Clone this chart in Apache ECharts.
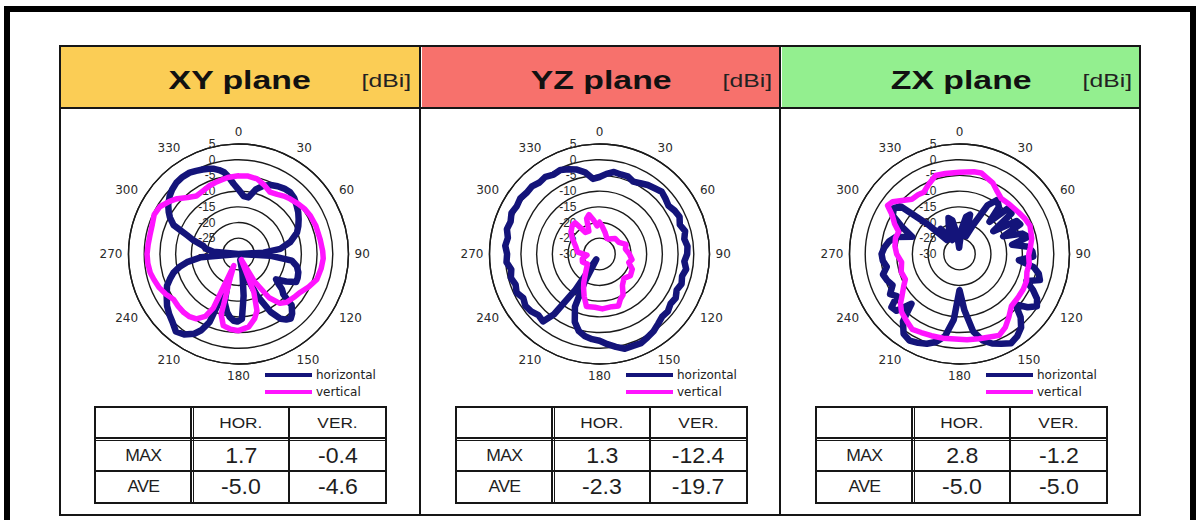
<!DOCTYPE html>
<html>
<head>
<meta charset="utf-8">
<title>Radiation patterns</title>
<script src="https://cdn.jsdelivr.net/npm/echarts@6.0.0/dist/echarts.min.js"></script>
<style>
  html, body { margin: 0; padding: 0; background: #fff; }
  body { position: relative; width: 1198px; height: 520px; overflow: hidden;
         font-family: "Liberation Sans", Arial, sans-serif; color: #1b1b1b; }
  #chart { position: absolute; left: 0; top: 0; width: 1198px; height: 520px; }
  .frame { position: absolute; left: 4px; top: 6px; width: 1180px; height: 560px;
           border: 6px solid #000; pointer-events: none; }
  .ln { position: absolute; background: #161616; }
  .head { position: absolute; top: 47px; height: 60px; }
  .title { position: absolute; left: 0; right: 0; top: 20px; text-align: center;
           font-weight: bold; font-size: 26px; line-height: 26px; color: #111; }
  .title span { display: inline-block; transform: scaleX(1.3); }
  .unit { position: absolute; right: 8px; top: 24px; font-size: 19px; line-height: 19px; color: #222; }
  .unit span { display: inline-block; transform: scaleX(1.3); transform-origin: right center; }
  .tbl { position: absolute; top: 406px; width: 293px; height: 98px; }
  .cell { position: absolute; display: flex; align-items: center; justify-content: center; color: #1e1e1e; }
  .cell span { display: inline-block; }
  .colhead span { font-size: 15px; transform: scaleX(1.15); }
  .rowhead span { font-size: 16px; transform: scaleX(1.1); letter-spacing: -0.7px; }
  .val span { font-size: 22px; transform: scaleX(1.05); }
</style>
</head>
<body>
<div id="chart"></div>
<div class="frame"></div>
<script>
// ---- gain patterns [dBi], angle in degrees clockwise from 0 (top) ----
const xyHorAngle = [0,5,10,15,20,25,30,35,40,45,50,55,60,65,70,77,83,87,90,93,97,102,107,112,116,120,124,127,129,132,134,138,141,144,147,151,156,160,164,168,173,177,181,184,188,191,196,200,203,206,209,214,219,224,229,234,240,246,250,254,258,261,265,270,275,279,283,287,290,294,298,301,305,310,314,319,324,329,333,337,341,344,347,350,353,356];
const xyHorGain  = [-9.5,-11.5,-11.7,-8.7,-6.9,-5.8,-5.1,-4.6,-4.4,-4.9,-5.9,-6.8,-7.9,-9.0,-10.2,-13.1,-16.6,-22,-30,-20,-12.9,-11.0,-10.1,-9.7,-9.6,-12.5,-15.6,-14,-12.2,-10.8,-6.5,-4.5,-3.6,-4.2,-5.4,-8.9,-15.5,-22,-28,-24,-16.6,-9.3,-8.5,-8.7,-9.8,-11.1,-14,-20,-6.5,-3.0,-1.0,0.9,1.7,0.2,-0.8,-1.9,-3.6,-5.1,-6.8,-8.5,-11,-13.4,-18,-30,-22,-19.5,-18.5,-15,-12.6,-7.4,-5.3,-4.1,-2.7,-1.4,-0.6,0.1,0.3,0.2,-0.3,-0.8,-1.3,-1.8,-2.6,-3.6,-5.5,-7.6];

const xyVerAngle = [0,7,14,20,27,33,38,43,50,56,62,70,80,88,93,100,108,115,122,128,135,140,145,150,154,158,162,166,172,180,186,192,196,199,202,205,208,213,218,223,229,235,241,247,253,258,264,270,276,282,289,295,301,307,312,318,324,330,337,342,346,352];
const xyVerGain  = [-5.1,-5.0,-5.4,-6.5,-7.9,-7.4,-6.6,-6.0,-5.2,-4.5,-4.1,-3.8,-3.6,-3.2,-3.0,-3.3,-3.8,-5.3,-6.9,-7.6,-8.3,-9.5,-13,-20,-28,-17,-11,-8.8,-6.6,-5.6,-5.9,-6.7,-10,-22,-26,-11,-7.5,-5.4,-4.7,-4.5,-4.6,-4.8,-3.6,-2.6,-1.9,-1.3,-1.0,-0.9,-1.1,-1.2,-1.0,-0.4,-0.8,-2.3,-3.7,-5.8,-7.2,-7.0,-6.4,-6.1,-5.9,-5.4];

const yzHorAngle = [0,5,10,15,20,25,30,35,40,45,50,55,60,65,70,75,80,85,90,95,100,105,110,115,120,125,130,135,140,145,150,155,160,165,170,175,180,185,190,195,200,205,208,211,214,217,220,225,230,235,240,245,250,255,260,265,270,275,280,285,290,295,300,305,310,315,320,325,330,335,340,345,350,355];
const yzHorGain  = [-5.5,-4.4,-3.5,-3.8,-3.7,-4.6,-4.0,-3.2,-2.7,-2.0,-2.6,-3.2,-2.4,-1.9,-2.8,-1.8,-2.6,-1.9,-2.1,-2.9,-2.0,-2.8,-2.2,-2.9,-2.0,-2.4,-1.6,-1.8,-1.0,0.0,0.6,1.3,1.1,1.2,0.0,-1.2,-2.4,-2.8,-3.4,-4.6,-7,-11.5,-20,-28,-16,-6,-2.0,-2.5,-1.6,-1.2,-2.0,-0.9,-1.6,-0.8,-1.5,-0.3,-0.6,0.1,-0.4,0.5,0.1,0.9,0.4,0.8,0.3,0.4,-0.3,0.0,-0.8,-0.5,-1.3,-2.2,-3.6,-6.0];

const yzVerAngle = [0,5,15,25,32,45,59,70,79,90,100,106,115,125,135,144,150,155,160,167,177,185,194,200,205,209,217,230,245,254,265,275,289,300,308,316,322,327,335,340,345,350,355];
const yzVerGain  = [-19.9,-21,-23,-24.5,-24.4,-23,-22.8,-21,-21.6,-20.5,-19.5,-20.3,-18.5,-18,-19,-17.6,-15,-14.2,-12.4,-12.8,-12.5,-13,-12.8,-15.7,-18,-19.7,-22.7,-25,-24,-24.3,-26,-23,-21.9,-20,-18.5,-17.5,-17.4,-21.8,-22,-18,-17,-19,-21];

const zxHorAngle = [0,5,10,15,20,25,30,35,40,43,47,52,56,60,64,68,72,76,80,84,88,92,96,100,104,108,112,116,120,124,128,132,136,140,145,150,155,160,165,170,175,180,185,190,195,200,205,210,215,220,224,228,232,236,240,245,250,255,260,265,270,275,280,285,290,295,300,305,309,313,318,323,328,333,338,343,348,353,357];
const zxHorGain  = [-27,-22,-18,-17,-24,-20,-12,-9,-10.5,-16,-7.9,-9,-17,-9,-8.5,-15,-9,-7.5,-13,-8,-6.8,-6.5,-11,-6,-4,-3.1,-7,-4,-1.5,-0.3,-2.5,-6,-2,0.5,2.0,2.8,1.5,0.3,-1.5,-5,-12,-18.5,-9,-3.4,-1.0,0.4,1.2,1.8,1.0,-2,-8,-3,-2.5,-6,-4.5,-6.5,-5.5,-4.8,-6.5,-5.5,-5.2,-6,-7.2,-9,-14,-10,-5.5,-4.5,-6,-16,-24,-20,-23,-25,-21,-18,-19,-24,-28];

const zxVerAngle = [0,10,15,20,25,30,37,45,55,62,68,78,85,91,98,105,112,119,127,135,142,148,154,160,167,175,183,191,199,206,212,218,225,230,234,240,245,253,262,270,277,284,290,295,300,304,308,313,319,325,330,336,343,350];
const zxVerGain  = [-4.0,-3.4,-3.3,-4.3,-5.0,-6.5,-7.9,-7.6,-7.0,-6.3,-5.8,-6.5,-7.4,-8.0,-7.6,-7.8,-7.0,-6.8,-6.8,-6.6,-4.5,-2.5,-1.2,-1.9,-2.3,-2.6,-2.9,-2.7,-2.5,-2.2,-1.7,-2.8,-3.9,-5.5,-7.4,-9.5,-11.0,-10.6,-11.4,-10.0,-9.3,-9.0,-9.4,-7.2,-5.3,-2.4,-3.0,-5.0,-6.9,-7.0,-7.3,-5.8,-3.9,-4.0];

// ---- summary table ----
const planeNames = ['XY plane', 'YZ plane', 'ZX plane'];
const aveHor = [-5.0, -2.3, -5.0];
const aveVer = [-4.6, -19.7, -5.0];

// ---- axis ticks ----
const angleTickStep = 30;
const gainMin = -30, gainMax = 5, gainStep = 5;

// ---- layout / styling ----
const PANEL_LEFT = [59, 420, 780];
const HEAD_COLORS = ['#fbcd55', '#f7716c', '#93ef8f'];
const HOR_COLOR = '#14147a';
const VER_COLOR = '#ff14ff';
const CENTER_Y = 254, RADIUS = 110;

const patterns = [
  { hor: [xyHorAngle, xyHorGain], ver: [xyVerAngle, xyVerGain] },
  { hor: [yzHorAngle, yzHorGain], ver: [yzVerAngle, yzVerGain] },
  { hor: [zxHorAngle, zxHorGain], ver: [zxVerAngle, zxVerGain] }
];

function ring(angles, gains) {
  const pts = angles.map((a, i) => [gains[i], a]);
  pts.push([gains[0], angles[0] + 360]);
  return pts;
}

// ---- frame lines, headers, tables (HTML) ----
function addLine(x, y, w, h) {
  const d = document.createElement('div');
  d.className = 'ln';
  Object.assign(d.style, { left: x + 'px', top: y + 'px', width: w + 'px', height: h + 'px' });
  document.body.appendChild(d);
}
function addCell(parent, cls, text, x, y, w, h) {
  const c = document.createElement('div');
  c.className = 'cell ' + cls;
  Object.assign(c.style, { left: x + 'px', top: y + 'px', width: w + 'px', height: h + 'px' });
  const s = document.createElement('span');
  s.textContent = text;
  c.appendChild(s);
  parent.appendChild(c);
}

PANEL_LEFT.forEach((pl, i) => {
  const head = document.createElement('div');
  head.className = 'head';
  Object.assign(head.style, { left: (pl + 2) + 'px', width: '358px', background: HEAD_COLORS[i] });
  head.innerHTML = '<div class="title"><span>' + planeNames[i] + '</span></div>' +
                   '<div class="unit"><span>[dBi]</span></div>';
  document.body.appendChild(head);

  const t = document.createElement('div');
  t.className = 'tbl';
  t.style.left = (pl + 35) + 'px';
  document.body.appendChild(t);
  const L = pl + 35, T = 406;
  // outer box
  addLine(L, T, 293, 2); addLine(L, T + 96, 293, 2);
  addLine(L, T, 2, 98); addLine(L + 291, T, 2, 98);
  // double rule under header row / after first column
  addLine(L, T + 31, 293, 1.5); addLine(L, T + 33.5, 293, 1.5);
  addLine(L + 96, T, 1.5, 98); addLine(L + 98.5, T, 1.5, 98);
  // single rules
  addLine(L, T + 64, 293, 1.5);
  addLine(L + 194, T, 1.5, 98);

  const maxH = Math.max(...patterns[i].hor[1]).toFixed(1);
  const maxV = Math.max(...patterns[i].ver[1]).toFixed(1);
  addCell(t, 'colhead', 'HOR.', 100, 2, 94, 29);
  addCell(t, 'colhead', 'VER.', 196, 2, 95, 29);
  addCell(t, 'rowhead', 'MAX', 2, 35, 94, 29);
  addCell(t, 'rowhead', 'AVE', 2, 66, 94, 30);
  addCell(t, 'val', maxH, 100, 35, 94, 29);
  addCell(t, 'val', maxV, 196, 35, 95, 29);
  addCell(t, 'val', aveHor[i].toFixed(1), 100, 66, 94, 30);
  addCell(t, 'val', aveVer[i].toFixed(1), 196, 66, 95, 30);
});
// panel grid
addLine(59, 45, 1082, 2);
addLine(59, 107, 1082, 2);
addLine(59, 514, 1082, 2);
addLine(59, 45, 2, 471);
addLine(419, 45, 2, 471);
addLine(779, 45, 2, 471);
addLine(1139, 45, 2, 471);

// ---- polar charts ----
const chart = echarts.init(document.getElementById('chart'), null, { renderer: 'svg' });
const idx = [0, 1, 2];
const option = {
  animation: false,
  polar: idx.map(i => ({ center: [PANEL_LEFT[i] + 179.5, CENTER_Y], radius: RADIUS })),
  angleAxis: idx.map(i => ({
    polarIndex: i, type: 'value', min: 0, max: 360, interval: angleTickStep,
    startAngle: 90, clockwise: true,
    axisLine: { lineStyle: { color: '#1a1a1a', width: 1.4 } },
    axisTick: { show: false },
    splitLine: { show: false },
    axisLabel: { color: '#2a2a2a', fontSize: 12, fontFamily: 'DejaVu Sans', margin: 6,
                 formatter: v => (v === 360 ? '' : String(v)) }
  })),
  radiusAxis: idx.map(i => ({
    polarIndex: i, type: 'value', min: gainMin, max: gainMax, interval: gainStep,
    axisLine: { show: false },
    axisTick: { show: false },
    splitLine: { show: true, lineStyle: { color: '#1a1a1a', width: 1.4 } },
    axisLabel: { color: '#2a2a2a', fontSize: 12, fontFamily: 'Liberation Sans', margin: 23 }
  })),
  legend: idx.map(i => ({
    orient: 'vertical', left: PANEL_LEFT[i] + 206, top: 369, padding: 0,
    icon: 'rect', itemWidth: 47, itemHeight: 4, itemGap: 5,
    selectedMode: false,
    data: ['horizontal', 'vertical'],
    textStyle: { color: '#222', fontSize: 12, fontFamily: 'DejaVu Sans', padding: [0, 0, 0, -1] }
  })),
  series: idx.flatMap(i => [
    { name: 'horizontal', type: 'line', coordinateSystem: 'polar', polarIndex: i,
      data: ring(patterns[i].hor[0], patterns[i].hor[1]),
      showSymbol: false, silent: true, z: 3,
      itemStyle: { color: HOR_COLOR },
      lineStyle: { color: HOR_COLOR, width: 6.5, join: 'round', cap: 'round' } },
    { name: 'vertical', type: 'line', coordinateSystem: 'polar', polarIndex: i,
      data: ring(patterns[i].ver[0], patterns[i].ver[1]),
      showSymbol: false, silent: true, z: 4,
      itemStyle: { color: VER_COLOR },
      lineStyle: { color: VER_COLOR, width: 5.5, join: 'round', cap: 'round' } }
  ])
};
chart.setOption(option);
</script>
</body>
</html>
